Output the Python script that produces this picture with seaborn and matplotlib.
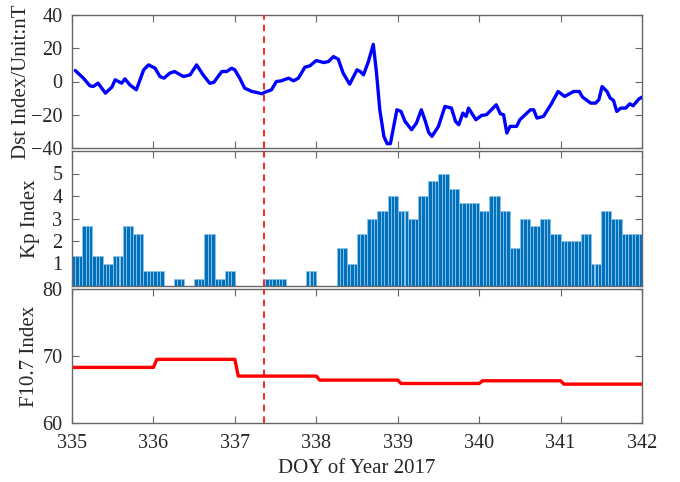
import numpy as np
import pandas as pd
import matplotlib
matplotlib.use("Agg")
import matplotlib.pyplot as plt
import seaborn as sns

# ---------------- data ----------------
dst_day = [335.04, 335.14, 335.22, 335.26, 335.32, 335.41, 335.49, 335.53, 335.61, 335.65,
           335.71, 335.79, 335.88, 335.94, 336.02, 336.08, 336.13, 336.20, 336.26, 336.31,
           336.37, 336.45, 336.53, 336.61, 336.69, 336.74, 336.84, 336.90, 336.96, 337.00,
           337.06, 337.12, 337.21, 337.27, 337.33, 337.39, 337.45, 337.51, 337.57, 337.66,
           337.72, 337.78, 337.86, 337.92, 338.00, 338.09, 338.15, 338.21, 338.27, 338.33,
           338.41, 338.50, 338.54, 338.58, 338.64, 338.70, 338.74, 338.78, 338.83, 338.87,
           338.91, 338.99, 339.04, 339.09, 339.17, 339.23, 339.29, 339.34, 339.38, 339.42,
           339.50, 339.58, 339.66, 339.71, 339.75, 339.80, 339.84, 339.87, 339.96, 340.03,
           340.09, 340.21, 340.26, 340.30, 340.34, 340.38, 340.46, 340.50, 340.63, 340.67,
           340.71, 340.79, 340.88, 340.97, 341.05, 341.16, 341.23, 341.27, 341.37, 341.43,
           341.47, 341.51, 341.57, 341.61, 341.65, 341.69, 341.74, 341.80, 341.85, 341.89,
           341.96, 342.00]
dst_val = [6.6, 2, -2.6, -3, -1, -7, -3.4, 1, -1, 1.6,
           -2, -5, 7, 10, 8, 3, 2, 5, 6, 4.6,
           3, 4, 10, 4, -1, -0.6, 6, 6, 8, 7,
           2, -4, -6, -6.6, -7.4, -6, -5, 0, 0.4, 2,
           0.4, 2, 8.6, 9.4, 12.6, 11.4, 12, 15, 13.4, 5,
           -1.6, 7, 6, 4, 12, 22.4, 5, -17, -33, -37.4,
           -37.4, -17, -18, -24, -29, -25, -17, -24, -30.6, -33,
           -27, -15, -16, -24, -26, -19, -21, -16, -23, -20.4,
           -20, -14, -19.4, -20, -31, -27, -27, -23, -17, -17,
           -22, -21, -14, -6, -9, -6, -6, -9.4, -13, -13,
           -11, -3, -6, -10, -11.4, -18, -16, -16, -13.4, -14.6,
           -10.6, -9.4]

# 3-hourly Kp, 8 values per day, DOY 335-341
kp_3h = [1.33, 2.67, 1.33, 1.0, 1.33, 2.67, 2.33, 0.67,
         0.67, 0.0, 0.33, 0.0, 0.33, 2.33, 0.33, 0.67,
         0.0, 0.0, 0.0, 0.33, 0.33, 0.0, 0.0, 0.67,
         0.0, 0.0, 1.67, 1.0, 2.33, 3.0, 3.33, 4.0,
         3.33, 3.0, 4.0, 4.67, 5.0, 4.33, 3.67, 3.67,
         3.33, 4.0, 3.33, 1.67, 3.0, 2.67, 3.0, 2.33,
         2.0, 2.0, 2.33, 1.0, 3.33, 3.0, 2.33, 2.33]

days = [335, 336, 337, 338, 339, 340, 341]
f107_daily = [68.3, 69.5, 67.0, 66.4, 65.9, 66.3, 65.8]

event_doy = 337.36

xticks = [335, 336, 337, 338, 339, 340, 341, 342]
dst_ticks = [-40, -20, 0, 20, 40]
kp_ticks = [0, 1, 2, 3, 4, 5]
kp_ticklabels = ["", "1", "2", "3", "4", "5"]
f107_ticks = [60, 70, 80]

# ---------------- derived tables ----------------
n_hours = 24 * len(days)
hour_t = days[0] + (np.arange(n_hours) + 0.5) / 24.0
kp_df = pd.DataFrame({"t": np.round(hour_t, 5), "kp": np.repeat(kp_3h, 3)})
dst_df = pd.DataFrame({"t": dst_day, "dst": dst_val})
f_vals = np.concatenate([[f107_daily[0]], np.repeat(f107_daily, 24)])
f_t = days[0] + np.arange(n_hours + 1) / 24.0
f_df = pd.DataFrame({"t": f_t, "f107": f_vals})

# ---------------- style ----------------
sns.set_theme(style="white")
plt.rcParams["font.family"] = ["Liberation Serif", "DejaVu Serif"]
plt.rcParams["mathtext.fontset"] = "stix"

fig = plt.figure(figsize=(6.8, 4.82), dpi=100)
L, W = 72 / 680, 570 / 680
ax1 = fig.add_axes([L, 1 - 148 / 482, W, 133 / 482])
ax2 = fig.add_axes([L, 1 - 286 / 482, W, 135 / 482])
ax3 = fig.add_axes([L, 1 - 423 / 482, W, 134 / 482])

tick_fs = 14.5
lab_fs = 15
spine_c = "#666666"
txt_c = "#262626"

sns.lineplot(data=dst_df, x="t", y="dst", ax=ax1, color="#0000FF", lw=2.4, sort=False)
sns.barplot(data=kp_df, x="t", y="kp", ax=ax2, native_scale=True, width=1.0,
            color="#0072BD", saturation=1, edgecolor="#8FC3E8", linewidth=0.6,
            errorbar=None)
sns.lineplot(data=f_df, x="t", y="f107", ax=ax3, color="#FF0000", lw=2.4, sort=False)

for ax in (ax1, ax2, ax3):
    ax.set_xlim(335, 342)
    ax.set_xticks(xticks)
    ax.axvline(event_doy, color="#FF0000", ls=(0, (4, 3)), lw=1.2, zorder=5)
    for s in ax.spines.values():
        s.set_color(spine_c)
        s.set_linewidth(1.0)
        s.set_visible(True)
    ax.tick_params(direction="in", length=5, width=0.8, color=spine_c,
                   top=True, right=True, bottom=True, left=True,
                   labelsize=tick_fs, labelcolor=txt_c)
    ax.tick_params(axis="y", pad=7)
    ax.tick_params(axis="x", pad=8)
    ax.set_xlabel("")
    ax.grid(False)
    ax.set_facecolor("white")

ax1.set_ylim(-40, 40)
ax1.set_yticks(dst_ticks)
ax1.tick_params(labelbottom=False)
ax1.set_ylabel("Dst Index/Unit:nT", fontsize=lab_fs, color=txt_c, labelpad=0)

ax2.set_ylim(0, 6)
ax2.set_yticks(kp_ticks)
ax2.set_yticklabels(kp_ticklabels)
ax2.tick_params(labelbottom=False)
ax2.set_ylabel("Kp Index", fontsize=lab_fs, color=txt_c, labelpad=9)

ax3.set_ylim(60, 80)
ax3.set_yticks(f107_ticks)
ax3.set_ylabel("F10.7 Index", fontsize=lab_fs, color=txt_c, labelpad=2)
ax3.set_xlabel("DOY of Year 2017", fontsize=lab_fs, color=txt_c, labelpad=4)
ax3.set_xticklabels([str(v) for v in xticks])

fig.savefig("out.png", dpi=100, facecolor="white")
